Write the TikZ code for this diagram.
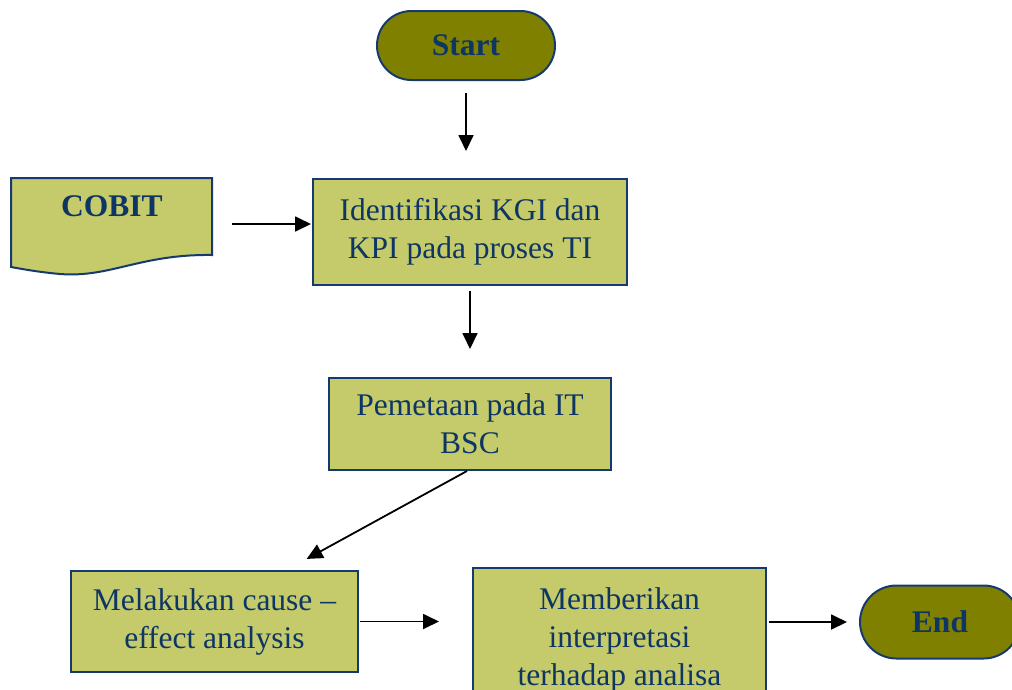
\documentclass[tikz,border=0pt]{standalone}
\usepackage{fontspec}
\setmainfont{Liberation Serif}
\usetikzlibrary{arrows.meta,shapes.misc}
\definecolor{boxgreen}{RGB}{197,202,106}
\definecolor{pillgreen}{RGB}{128,128,0}
\definecolor{edgeblue}{RGB}{22,58,110}
\definecolor{txtblue}{RGB}{14,54,100}

\begin{document}
\begin{tikzpicture}
  [x=1pt,y=-1pt,
   every node/.style={font=\fontsize{31.5}{38}\selectfont, text=txtblue, align=center, inner sep=0pt},
   box/.style={draw=edgeblue, line width=2pt, fill=boxgreen},
   pill/.style={rounded rectangle, draw=edgeblue, line width=2pt, fill=pillgreen, font=\fontsize{31.5}{38}\selectfont\bfseries},
   arr/.style={-{Triangle[length=16pt,width=15pt]}, line width=1.8pt}]
  \useasboundingbox (0,0) rectangle (1012,689);

  % dokumen COBIT
  \draw[draw=edgeblue, line width=2pt, fill=boxgreen] (11,178) -- (212,178) -- (212,255)
    .. controls (140,254) and (110,278) .. (60,274)
    .. controls (38,272) and (22,269) .. (11,267) -- cycle;
  \node[minimum width=201pt, minimum height=92pt] (cobit) at (111.5,224) {};
  \node[font=\fontsize{31.5}{38}\selectfont\bfseries] (cobitlabel) at (112,206) {COBIT};

  \node[pill, minimum width=178pt, minimum height=69pt] (start) at (466,45.5) {Start};
  \node[box, minimum width=314pt, minimum height=106pt] (ident) at (470,232) {Identifikasi KGI dan\\KPI pada proses TI};
  \node[box, minimum width=282pt, minimum height=92pt] (pemetaan) at (470,424) {Pemetaan pada IT\\BSC};
  \node[box, minimum width=287pt, minimum height=101pt] (melakukan) at (214.5,621.5) {Melakukan cause --\\effect analysis};
  \node[box, minimum width=293pt, minimum height=143pt] (memberikan) at (619.5,639.5) {Memberikan\\interpretasi\\terhadap analisa};
  \node[pill, minimum width=160pt, minimum height=73pt] (end) at (940,622) {End};

  \draw[arr, shorten <=12pt, shorten >=27pt] (start.south) -- (start.south |- ident.north);
  \draw[arr, shorten <=20pt, shorten >=1pt] (cobit.east) -- (cobit.east -| ident.west);
  \draw[arr, shorten <=5pt, shorten >=28pt] (ident.south) -- (ident.south |- pemetaan.north);
  \draw[arr, shorten >=23pt] ([xshift=-3pt]pemetaan.south) -- ([xshift=72pt]melakukan.north);
  \draw[arr, shorten <=1pt, shorten >=33pt] (melakukan.east) -- (melakukan.east -| memberikan.west);
  \draw[arr, shorten <=2pt, shorten >=12pt] (end.west -| memberikan.east) -- (end.west);
\end{tikzpicture}
\end{document}
